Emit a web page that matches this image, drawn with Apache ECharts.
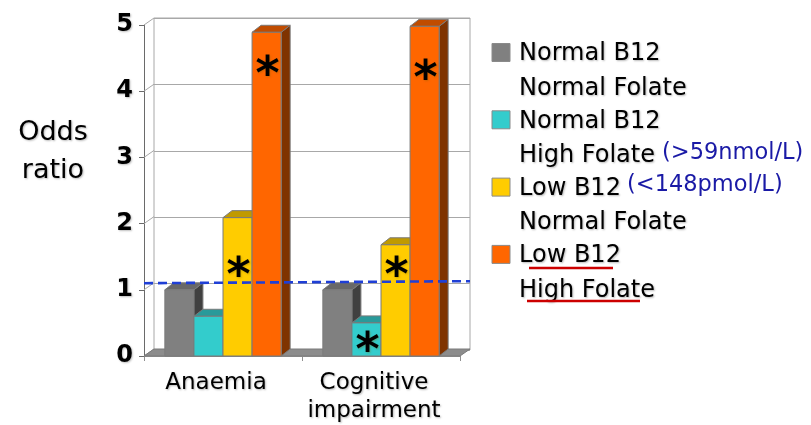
<!DOCTYPE html>
<html>
<head>
<meta charset="utf-8">
<script src="https://cdn.jsdelivr.net/npm/echarts@6/dist/echarts.min.js"></script>
<style>
  html, body { margin: 0; padding: 0; background: #fff; }
  #chart { width: 811px; height: 425px; }
</style>
</head>
<body>
<div id="chart"></div>
<script>
// Categories and odds ratios for each B12 / folate group
const categories = ['Anaemia', 'Cognitive\nimpairment'];
const groupLabels = [
  ['Normal B12', 'Normal Folate'],
  ['Normal B12', 'High Folate'],
  ['Low B12', 'Normal Folate'],
  ['Low B12', 'High Folate']
];
const normalB12NormalFolate = [1.0, 1.0];
const normalB12HighFolate = [0.6, 0.5];
const lowB12NormalFolate = [2.09, 1.68];
const lowB12HighFolate = [4.89, 4.98];
// significance markers (*) per group and category
const significant = [
  [false, false],
  [false, true],
  [true, true],
  [true, true]
];
const yTicks = [0, 1, 2, 3, 4, 5];
const referenceLine = [1.10, 1.13];
const thresholdNotes = ['(>59nmol/L)', '(<148pmol/L)'];

const groupValues = [normalB12NormalFolate, normalB12HighFolate, lowB12NormalFolate, lowB12HighFolate];

// face colours: front, top, side
const palette = [
  { front: '#808080', top: '#686868', side: '#404040' },
  { front: '#33cccc', top: '#299a9a', side: '#1a6666' },
  { front: '#ffcc00', top: '#c09a00', side: '#806600' },
  { front: '#ff6600', top: '#c04c00', side: '#7f3300' }
];
// height of the asterisk inside each bar (axis units)
const starLevel = [[0, 0], [0, 0.23], [1.36, 1.36], [4.4, 4.34]];

const FONT = '"DejaVu Sans", "Noto Sans", sans-serif';
const DX = 9, DY = -7;            // bar depth
const WALL_DX = 10, WALL_DY = -7; // wall depth
const shadow = { textShadowColor: 'rgba(0,0,0,0.28)', textShadowBlur: 2, textShadowOffsetX: 1, textShadowOffsetY: 1 };

const chart = echarts.init(document.getElementById('chart'), null, { renderer: 'canvas' });

function barSeries(s) {
  return {
    type: 'custom',
    name: groupLabels[s].join(' '),
    xAxisIndex: 1, yAxisIndex: 1,
    z: 3 + s,
    data: groupValues[s].map((v, i) => [i, v]),
    renderItem(params, api) {
      const cat = api.value(0), v = api.value(1);
      const base = api.coord([cat, 0]);
      const top = api.coord([cat, v]);
      const band = api.size([1, 0])[0];
      const w = band * 0.184;
      const x = base[0] - 2 * w + s * w;
      const c = palette[s];
      const edge = { stroke: '#7a7a7a', lineWidth: 1 };
      const children = [
        { type: 'polygon', shape: { points: [[x + w, top[1]], [x + w + DX, top[1] + DY], [x + w + DX, base[1] + DY], [x + w, base[1]]] },
          style: Object.assign({ fill: c.side }, edge) },
        { type: 'polygon', shape: { points: [[x, top[1]], [x + w, top[1]], [x + w + DX, top[1] + DY], [x + DX, top[1] + DY]] },
          style: Object.assign({ fill: c.top }, edge) },
        { type: 'rect', shape: { x: x, y: top[1], width: w, height: base[1] - top[1] },
          style: Object.assign({ fill: c.front }, edge) }
      ];
      if (significant[s][cat]) {
        const sp = api.coord([cat, starLevel[s][cat]]);
        children.push({
          type: 'text',
          style: {
            x: x + w / 2 + 1, y: sp[1] + 12, text: '*', align: 'center', verticalAlign: 'middle',
            fill: '#000', font: 'bold 46px "DejaVu Sans", sans-serif',
            textShadowColor: 'rgba(120,100,0,0.35)', textShadowBlur: 2, textShadowOffsetX: 1, textShadowOffsetY: 1
          }
        });
      }
      return { type: 'group', children };
    }
  };
}

// legend drawn as graphics: square + two-line label per group
const legendGraphics = [];
groupLabels.forEach((lines, i) => {
  const y0 = 53 + i * 67.3;
  legendGraphics.push({
    type: 'rect', shape: { x: 492, y: y0 - 9.5, width: 18, height: 18 },
    style: { fill: palette[i].front, stroke: '#8a8a8a', lineWidth: 1 }
  });
  lines.forEach((t, k) => {
    legendGraphics.push({
      type: 'text',
      style: Object.assign({ x: 519, y: y0 + 1 + k * 34.5, text: t, align: 'left', verticalAlign: 'middle',
        fill: '#000', font: '24px ' + FONT }, shadow)
    });
  });
});
legendGraphics.push(
  { type: 'text', style: { x: 662, y: 153, text: thresholdNotes[0], align: 'left', verticalAlign: 'middle', fill: '#1a1aa6', font: '22.5px ' + FONT } },
  { type: 'text', style: { x: 627, y: 185, text: thresholdNotes[1], align: 'left', verticalAlign: 'middle', fill: '#1a1aa6', font: '22.5px ' + FONT } },
  { type: 'line', shape: { x1: 529, y1: 268, x2: 613, y2: 268 }, style: { stroke: '#cc0000', lineWidth: 2.5 } },
  { type: 'line', shape: { x1: 527, y1: 301, x2: 640, y2: 301 }, style: { stroke: '#cc0000', lineWidth: 2.5 } },
  { type: 'text', style: Object.assign({ x: 53, y: 152, text: 'Odds\nratio', align: 'center', verticalAlign: 'middle',
      fill: '#000', font: '27px ' + FONT, lineHeight: 38 }, shadow) }
);

const option = {
  backgroundColor: '#fff',
  animation: false,
  grid: [
    // back wall
    { left: 154, top: 18, width: 316, height: 332, show: true, borderColor: '#a8a8a8', borderWidth: 1, backgroundColor: '#fff' },
    // front plane
    { left: 144, top: 25, width: 316, height: 332 }
  ],
  xAxis: [
    { gridIndex: 0, type: 'value', min: 0, max: 1, show: false },
    { gridIndex: 1, type: 'category', data: categories,
      axisLine: { show: true, lineStyle: { color: '#909090', width: 1 } },
      axisTick: { show: true, length: 5, lineStyle: { color: '#909090' } },
      axisLabel: { interval: 0, margin: 13, color: '#000', fontFamily: FONT, fontSize: 23, lineHeight: 28,
        padding: [0, 14, 0, 0], textShadowColor: 'rgba(0,0,0,0.28)', textShadowBlur: 2, textShadowOffsetX: 1, textShadowOffsetY: 1 }
    }
  ],
  yAxis: [
    { gridIndex: 0, type: 'value', min: 0, max: 5, interval: 1,
      axisLine: { show: false }, axisTick: { show: false }, axisLabel: { show: false },
      splitLine: { show: true, lineStyle: { color: '#a8a8a8', width: 1 } } },
    { gridIndex: 1, type: 'value', min: 0, max: 5, interval: 1,
      axisLine: { show: true, lineStyle: { color: '#6a6a6a', width: 1 } },
      axisTick: { show: true, length: 5, lineStyle: { color: '#6a6a6a' } },
      splitLine: { show: false },
      axisLabel: { margin: 11, color: '#000', fontFamily: FONT, fontWeight: 'bold', fontSize: 24,
        textShadowColor: 'rgba(0,0,0,0.25)', textShadowBlur: 2, textShadowOffsetX: 1, textShadowOffsetY: 1 }
    }
  ],
  graphic: legendGraphics,
  series: [
    // left side wall: diagonals joining front ticks to the back wall
    {
      type: 'custom', xAxisIndex: 1, yAxisIndex: 1, z: 1, silent: true,
      data: yTicks.map(t => [0, t]),
      renderItem(params, api) {
        const cs = params.coordSys;
        const p = api.coord([0, api.value(1)]);
        return { type: 'line', shape: { x1: cs.x, y1: p[1], x2: cs.x + WALL_DX, y2: p[1] + WALL_DY },
          style: { stroke: '#a8a8a8', lineWidth: 1 } };
      }
    },
    // floor
    {
      type: 'custom', xAxisIndex: 1, yAxisIndex: 1, z: 2, silent: true,
      data: [[0, 0]],
      renderItem(params, api) {
        const cs = params.coordSys;
        const y = api.coord([0, 0])[1];
        return { type: 'polygon', shape: { points: [[cs.x, y], [cs.x + cs.width, y], [cs.x + cs.width + WALL_DX, y + WALL_DY], [cs.x + WALL_DX, y + WALL_DY]] },
          style: { fill: '#8c8c8c', stroke: '#7a7a7a', lineWidth: 1 } };
      }
    },
    barSeries(0), barSeries(1), barSeries(2), barSeries(3),
    // dashed reference line
    {
      type: 'custom', xAxisIndex: 1, yAxisIndex: 1, z: 10, silent: true,
      data: [[0, referenceLine[0], referenceLine[1]]],
      renderItem(params, api) {
        const cs = params.coordSys;
        const y1 = api.coord([0, api.value(1)])[1];
        const y2 = api.coord([0, api.value(2)])[1];
        return { type: 'line', shape: { x1: cs.x, y1: y1, x2: cs.x + cs.width + WALL_DX, y2: y2 },
          style: { stroke: '#1f3fd6', lineWidth: 2.6, lineDash: [9, 5] } };
      }
    }
  ]
};

chart.setOption(option);
</script>
</body>
</html>
